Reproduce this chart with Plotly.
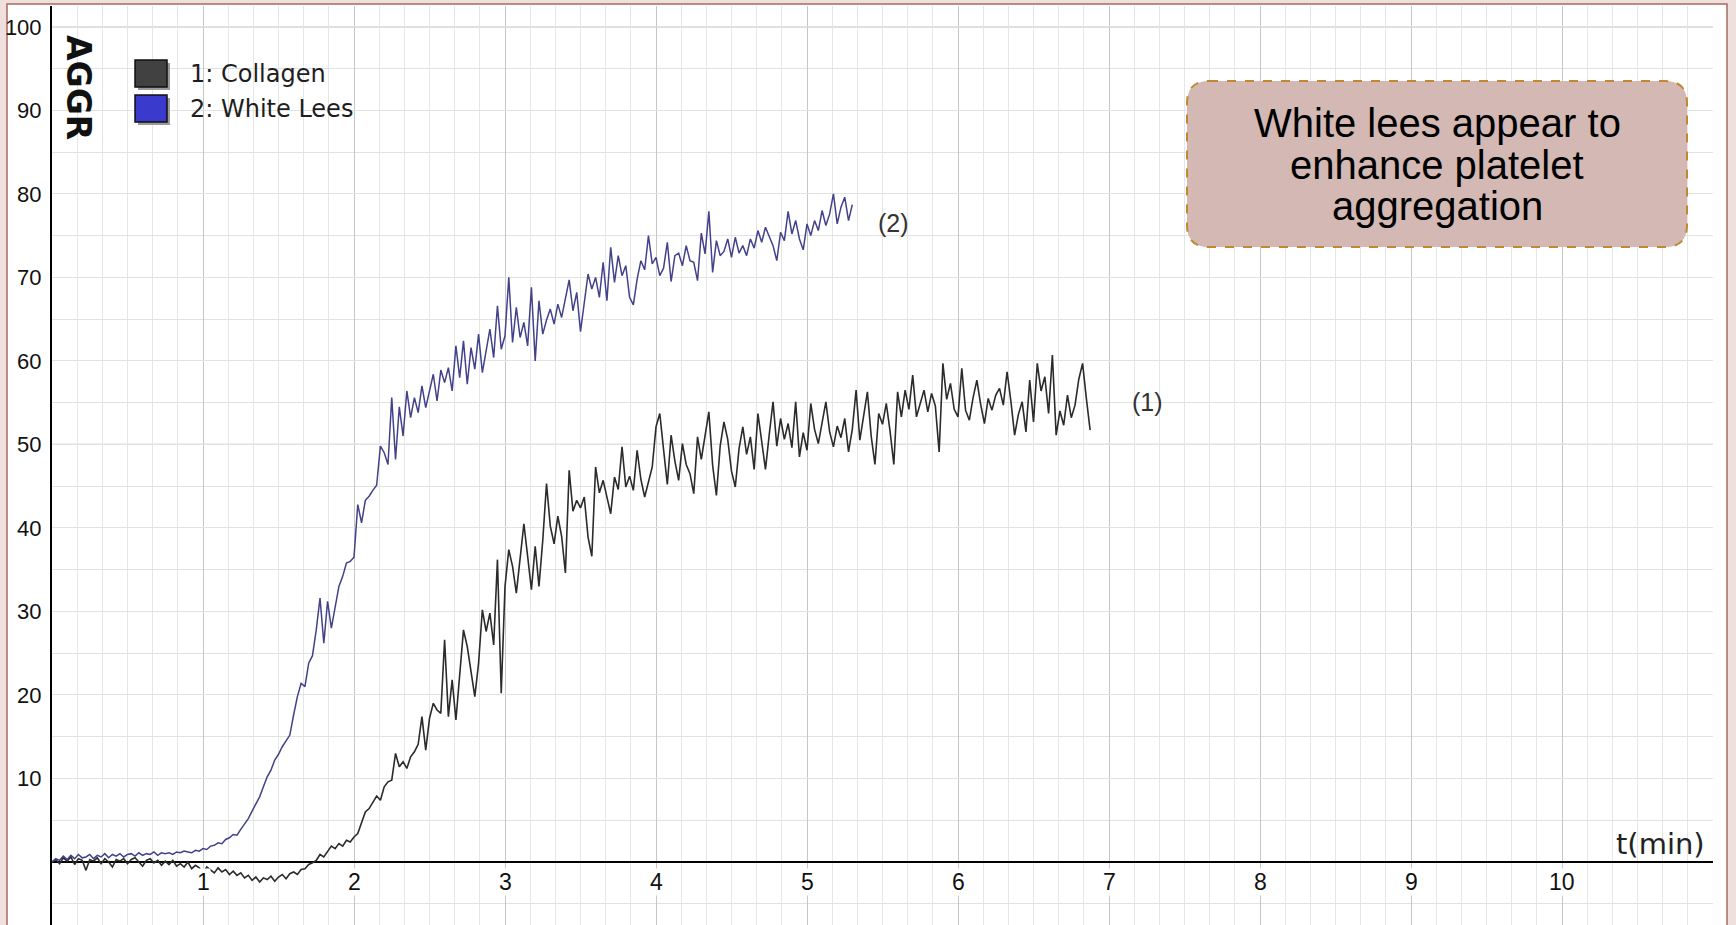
import plotly.graph_objects as go

# ---------------- data ----------------
SAMPLE_STEP = 0.025  # minutes between samples

collagen = [
    0.0, 0.3, -0.2, 0.5, 0.1, 0.6, -0.3, 0.4, 0.2, -1.0,
    0.3, 0.1, 0.5, -0.2, 0.4, 0.0, -0.6, 0.3, 0.1, 0.4,
    -0.2, 0.3, 0.5, 0.0, -0.5, 0.2, 0.4, -0.1, 0.2, -0.4,
    0.1, -0.3, 0.2, -0.5, -0.2, -0.6, 0.0, -0.8, -0.4, -0.7,
    -1.4, -0.6, -1.0, -1.3, -0.7, -1.2, -0.9, -1.5, -1.1, -1.6,
    -1.3, -1.9, -1.6, -2.2, -1.8, -2.4, -1.9, -2.1, -1.7, -2.3,
    -1.8, -1.5, -2.0, -1.4, -1.2, -1.5, -0.9, -0.8, -0.3, -0.1,
    0.2, 0.9, 0.6, 1.3, 1.9, 1.6, 2.2, 1.9, 2.6, 2.4,
    3.0, 3.4, 4.8, 6.0, 6.4, 7.2, 7.9, 7.4, 9.0, 9.6,
    9.8, 13.0, 11.4, 12.0, 11.2, 12.6, 13.2, 14.1, 17.4, 13.4,
    17.2, 19.0, 18.2, 17.8, 26.6, 17.4, 21.8, 17.0, 22.4, 27.8,
    25.8, 22.6, 19.8, 23.8, 30.2, 27.6, 29.8, 26.0, 36.2, 20.2,
    33.0, 37.4, 35.4, 32.2, 36.0, 40.5, 36.6, 32.6, 37.8, 33.0,
    38.5, 45.3, 40.2, 38.1, 41.4, 39.0, 34.6, 46.9, 42.0, 43.3,
    42.4, 43.7, 38.9, 36.6, 47.3, 44.2, 45.7, 43.5, 41.7, 46.1,
    44.6, 49.7, 44.9, 46.2, 44.5, 49.3, 45.8, 43.7, 45.6, 47.3,
    52.1, 53.7, 49.4, 45.2, 51.1, 48.0, 45.7, 50.1, 47.6, 46.5,
    44.1, 50.9, 48.2, 51.0, 53.9, 47.5, 43.9, 49.8, 52.7, 50.6,
    46.8, 44.9, 49.5, 52.1, 48.8, 50.9, 47.0, 53.7, 50.4, 47.0,
    51.2, 55.1, 49.8, 53.1, 50.6, 52.5, 49.6, 55.1, 48.5, 51.4,
    49.3, 54.9, 51.8, 50.1, 52.6, 55.1, 51.5, 49.7, 52.2, 50.8,
    53.1, 49.1, 51.8, 56.5, 50.5, 53.2, 56.3, 51.0, 47.6, 53.7,
    52.4, 54.9, 51.6, 47.6, 56.3, 53.3, 56.5, 54.2, 58.3, 53.3,
    54.8, 56.5, 53.9, 56.1, 54.6, 49.1, 59.7, 55.4, 57.3, 54.2,
    53.3, 59.1, 54.1, 52.9, 55.6, 57.7, 54.8, 52.5, 55.5, 54.1,
    55.9, 56.7, 54.7, 58.7, 55.2, 51.1, 53.6, 55.1, 51.5, 57.7,
    52.7, 59.7, 56.4, 58.1, 53.7, 60.7, 51.1, 54.0, 52.3, 55.9,
    53.2, 54.7, 57.8, 59.7, 55.5, 51.7,
]

white_lees = [
    0.0, 0.4, 0.2, 0.7, 0.3, 0.8, 0.4, 0.9, 0.5, 0.6,
    0.9, 0.4, 0.8, 0.6, 1.0, 0.5, 0.9, 0.7, 1.0, 0.6,
    0.9, 1.0, 0.7, 1.1, 0.8, 1.0, 0.9, 1.2, 0.8, 1.1,
    1.0, 1.1, 0.9, 1.2, 1.1, 1.3, 1.2, 1.1, 1.4, 1.3,
    1.6, 1.5, 1.9, 2.0, 2.3, 2.2, 2.7, 2.9, 3.3, 3.2,
    3.9, 4.6, 5.2, 6.1, 7.0, 7.8, 9.0, 10.2, 11.0, 12.2,
    12.9, 13.8, 14.5, 15.2, 17.6, 19.8, 21.4, 21.0, 23.8, 24.7,
    27.8, 31.6, 26.2, 31.2, 28.0, 30.4, 33.0, 34.2, 35.8, 36.0,
    36.5, 42.8, 40.6, 43.3, 43.8, 44.5, 45.1, 49.8, 49.0, 47.6,
    55.6, 48.2, 54.5, 51.0, 56.4, 53.2, 55.6, 53.8, 57.0, 54.4,
    56.6, 58.4, 55.2, 58.9, 57.4, 59.2, 56.4, 61.8, 58.0, 62.4,
    57.2, 61.6, 59.0, 63.2, 58.6, 61.2, 63.8, 60.4, 66.6, 61.4,
    63.0, 70.0, 62.2, 66.4, 62.8, 64.6, 61.8, 68.8, 60.0, 67.2,
    63.2, 64.9, 66.2, 64.4, 66.8, 65.2, 67.4, 69.7, 66.0, 68.2,
    63.5, 67.0, 70.4, 68.6, 70.0, 67.6, 71.8, 67.2, 73.6, 69.4,
    72.6, 70.2, 71.4, 67.6, 66.7, 69.8, 72.0, 70.9, 75.0, 71.6,
    72.4, 70.2, 71.1, 74.2, 69.5, 72.6, 72.9, 71.4, 73.8, 72.0,
    71.8, 69.6, 75.3, 72.8, 77.9, 70.6, 74.4, 72.6, 73.1, 74.6,
    72.4, 74.8, 72.9, 73.8, 72.6, 74.6, 73.5, 75.6, 74.2, 76.0,
    75.0, 73.8, 72.0, 75.4, 74.4, 77.9, 75.2, 76.8, 74.6, 73.3,
    76.4, 75.0, 76.8, 75.6, 78.0, 76.2, 77.6, 80.0, 76.4, 78.4,
    79.6, 76.8, 78.7,
]

t_collagen = [round(i * SAMPLE_STEP, 4) for i in range(len(collagen))]
t_white_lees = [round(i * SAMPLE_STEP, 4) for i in range(len(white_lees))]

x_tick_values = [1, 2, 3, 4, 5, 6, 7, 8, 9, 10]
x_tick_labels = ["1", "2", "3", "4", "5", "6", "7", "8", "9", "10"]
y_tick_values = [10, 20, 30, 40, 50, 60, 70, 80, 90, 100]
y_tick_labels = ["10", "20", "30", "40", "50", "60", "70", "80", "90", "100"]

series_names = ["1: Collagen", "2: White Lees"]
curve_tags = ["(1)", "(2)"]
note_lines = ["White lees appear to", "enhance platelet", "aggregation"]
y_title = "AGGR"
x_title = "t(min)"

# ---------------- layout geometry ----------------
W, H = 1736, 925
ML, MR, MT, MB = 52, 23, 6, 0
PW, PH = W - ML - MR, H - MT - MB
FONT = "Liberation Sans, Arial, sans-serif"
WIDE = "DejaVu Sans, Verdana, sans-serif"


def px(X):
    return (X - ML) / PW


def py(Y):
    return (H - MB - Y) / PH


fig = go.Figure()

fig.add_trace(go.Scatter(
    x=t_collagen, y=collagen, mode="lines", name=series_names[0],
    line=dict(color="#2b2b2b", width=1.6), hoverinfo="skip", showlegend=False))
fig.add_trace(go.Scatter(
    x=t_white_lees, y=white_lees, mode="lines", name=series_names[1],
    line=dict(color="#42428a", width=1.5), hoverinfo="skip", showlegend=False))

shapes = []
# slide frame: white page on a pink border
shapes.append(dict(type="rect", xref="paper", yref="paper", layer="below",
                   x0=px(7), x1=px(1727), y0=py(940), y1=py(4),
                   fillcolor="white", line=dict(color="#a86a5e", width=1.5)))
# darker reference grid lines at 50 and 100
for yv in (50, 100):
    shapes.append(dict(type="line", xref="paper", yref="y", layer="below",
                       x0=0, x1=1, y0=yv, y1=yv,
                       line=dict(color="#bdbdbd", width=1.2)))

# legend swatches
swatch_colors = ["#414141", "#3a3acc"]
swatch_tops = [60, 95]
for c, top in zip(swatch_colors, swatch_tops):
    shapes.append(dict(type="rect", xref="paper", yref="paper",
                       x0=px(138), x1=px(170), y0=py(top + 30), y1=py(top + 3),
                       fillcolor="#9a9a9a", line=dict(width=0)))
    shapes.append(dict(type="rect", xref="paper", yref="paper",
                       x0=px(135), x1=px(167), y0=py(top + 27), y1=py(top),
                       fillcolor=c, line=dict(color="#111111", width=1.5)))

# note box (rounded, dashed)
bx0, bx1, by0, by1 = px(1187), px(1687), py(247), py(81)
rx, ry = 22 / PW, 22 / PH
path = (f"M {bx0+rx},{by1} L {bx1-rx},{by1} Q {bx1},{by1} {bx1},{by1-ry} "
        f"L {bx1},{by0+ry} Q {bx1},{by0} {bx1-rx},{by0} "
        f"L {bx0+rx},{by0} Q {bx0},{by0} {bx0},{by0+ry} "
        f"L {bx0},{by1-ry} Q {bx0},{by1} {bx0+rx},{by1} Z")
shapes.append(dict(type="path", xref="paper", yref="paper", path=path,
                   fillcolor="#d3b8b3",
                   line=dict(color="#c08830", width=2, dash="dash")))

annotations = []
# x tick labels with white backing (grid line gap)
for v, lab in zip(x_tick_values, x_tick_labels):
    annotations.append(dict(x=v, y=-2.4, xref="x", yref="y", text=lab,
                            showarrow=False, bgcolor="white", borderpad=0,
                            font=dict(family=FONT, size=23, color="#111111")))
# legend text
for name, top in zip(series_names, swatch_tops):
    annotations.append(dict(x=px(188), y=py(top + 14), xref="paper", yref="paper",
                            text=name, showarrow=False, xanchor="left", yanchor="middle",
                            font=dict(family=WIDE, size=24, color="#1e1e1e")))
# axis titles
annotations.append(dict(x=px(78), y=py(87), xref="paper", yref="paper", text=f"<b>{y_title}</b>",
                        showarrow=False, textangle=90, xanchor="center", yanchor="middle",
                        font=dict(family=WIDE, size=33, color="#111111")))
annotations.append(dict(x=px(1660), y=py(844), xref="paper", yref="paper", text=x_title,
                        showarrow=False, xanchor="center", yanchor="middle",
                        font=dict(family=WIDE, size=29, color="#222222")))
# curve tags
annotations.append(dict(x=px(1147), y=py(402), xref="paper", yref="paper", text=curve_tags[0],
                        showarrow=False, font=dict(family=FONT, size=25, color="#333333")))
annotations.append(dict(x=px(893), y=py(207), xref="paper", yref="paper", text=curve_tags[1],
                        showarrow=False, font=dict(family=FONT, size=25, color="#333333")))
# note text
for i, line in enumerate(note_lines):
    annotations.append(dict(x=px(1437), y=py(123 + 41.5 * i), xref="paper", yref="paper",
                            text=line, showarrow=False, xanchor="center", yanchor="middle",
                            borderpad=0,
                            font=dict(family=FONT, size=40, color="#000000")))

fig.update_layout(
    width=W, height=H,
    margin=dict(l=ML, r=MR, t=MT, b=MB, pad=0),
    paper_bgcolor="#efe0dd", plot_bgcolor="white",
    shapes=shapes, annotations=annotations, showlegend=False,
    hovermode=False,
    xaxis=dict(range=[0, PW / 151.0], tickvals=list(range(0, 12)), showticklabels=False,
               ticks="", showgrid=True, gridcolor="#c6c6c6", gridwidth=1.2,
               minor=dict(dtick=1 / 6, tick0=0, showgrid=True, gridcolor="#e6e6e6", gridwidth=1),
               zeroline=False, showline=False, fixedrange=True),
    yaxis=dict(range=[-(H - MB - 862) / 8.352, (862 - MT) / 8.352],
               tickvals=y_tick_values, ticktext=y_tick_labels, ticks="",
               ticklabelstandoff=4,
               tickfont=dict(family=FONT, size=22, color="#111111"),
               showgrid=True, gridcolor="#e2e2e2", gridwidth=1,
               minor=dict(dtick=5, tick0=0, showgrid=True, gridcolor="#e2e2e2", gridwidth=1),
               zeroline=True, zerolinecolor="#000000", zerolinewidth=2,
               showline=True, linecolor="#000000", linewidth=2, fixedrange=True),
)

fig.write_html("out.html", config={"displayModeBar": False},
               post_script="document.body.style.margin='0px';"
                           "document.body.style.overflow='hidden';")
